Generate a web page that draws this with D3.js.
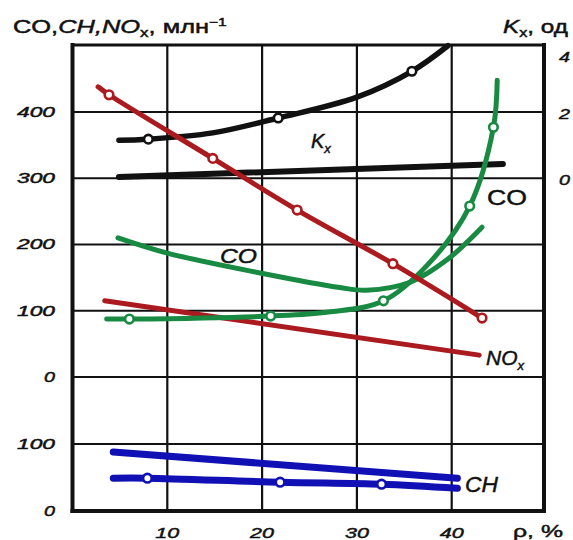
<!DOCTYPE html>
<html>
<head>
<meta charset="utf-8">
<script src="https://cdn.jsdelivr.net/npm/d3@7"></script>
<style>
  html, body { margin: 0; padding: 0; background: #fff; }
  svg { display: block; }
  text { font-family: "Liberation Sans", Arial, sans-serif; fill: #111; stroke: #111; stroke-width: 0.45; }
</style>
</head>
<body>
<svg id="chart" width="573" height="540"></svg>
<script>
// ---- data -------------------------------------------------------------
// ρ, % on the horizontal axis
const rhoTicks = [10, 20, 30, 40];
// upper block: CO and NOx, млн^-1
const upperTicks = [0, 100, 200, 300, 400];
// lower block: CH, млн^-1
const chTicks = [0, 100];
// right axis: Kx, од
const kxTicks = [0, 2, 4];

// each point: r = ρ (%), v = value, m = drawn with a circle marker
const noxMarked = [
  {r: 2.7, v: 438}, {r: 3.85, v: 426, m: 1}, {r: 14.8, v: 330, m: 1},
  {r: 23.7, v: 252, m: 1}, {r: 33.8, v: 171, m: 1}, {r: 43.2, v: 89, m: 1}
];
const noxPlain = [{r: 3.4, v: 115}, {r: 42.9, v: 33}];

const kxCurve = [
  {r: 4.9, v: 1.15}, {r: 8.0, v: 1.18, m: 1}, {r: 14.8, v: 1.37},
  {r: 21.7, v: 1.82, m: 1}, {r: 30.0, v: 2.45}, {r: 35.8, v: 3.23, m: 1},
  {r: 39.6, v: 4.0}
];
const kxLine = [{r: 4.9, v: 0.04}, {r: 45.4, v: 0.43}];

const coPlain = [
  {r: 4.8, v: 210}, {r: 10, v: 187}, {r: 19.8, v: 157}, {r: 28.2, v: 135},
  {r: 31, v: 131}, {r: 35.6, v: 143}, {r: 39.6, v: 178}, {r: 43.2, v: 226}
];
const coMarked = [
  {r: 3.6, v: 87.5}, {r: 6.0, v: 87.5, m: 1}, {r: 20.9, v: 92, m: 1},
  {r: 27, v: 98}, {r: 32.8, v: 115, m: 1}, {r: 37.5, v: 170},
  {r: 41.9, v: 258, m: 1}, {r: 44.4, v: 377, m: 1}, {r: 44.8, v: 448}
];

const chPlain = [{r: 4.3, v: 88}, {r: 40.6, v: 49}];
const chMarked = [
  {r: 4.3, v: 49}, {r: 7.9, v: 49, m: 1}, {r: 21.9, v: 43, m: 1},
  {r: 32.6, v: 40, m: 1}, {r: 40.6, v: 34}
];

// ---- colours ----------------------------------------------------------
const RED = "#aa1a1e", GREEN = "#188a42", BLUE = "#1010b4", BLACK = "#111";

// ---- scales -----------------------------------------------------------
const svg = d3.select("#chart");
const x = d3.scaleLinear().domain([0, 50]).range([72.5, 546.5]);
const yUp = d3.scaleLinear().domain([0, 500]).range([377, 45.75]);
const yKx = d3.scaleLinear().domain([0, 4]).range([yUp(300), yUp(500)]);
const yCH = d3.scaleLinear().domain([0, 100]).range([511, 444]);

const frame = {left: 72.5, right: 544, top: 45, bottom: 511};

// ---- grid -------------------------------------------------------------
const grid = svg.append("g").attr("stroke", BLACK).attr("stroke-width", 2.2);
grid.selectAll("line.v").data(rhoTicks).join("line")
  .attr("x1", d => x(d)).attr("x2", d => x(d))
  .attr("y1", frame.top).attr("y2", frame.bottom);
const hLines = upperTicks.map(d => yUp(d)).concat([yCH(100)]);
grid.selectAll("line.h").data(hLines).join("line")
  .attr("x1", frame.left).attr("x2", frame.right)
  .attr("y1", d => d).attr("y2", d => d);

// ---- frame ------------------------------------------------------------
const fr = svg.append("g").attr("stroke", BLACK).attr("stroke-linecap", "square");
fr.append("line").attr("x1", frame.left).attr("x2", frame.right)
  .attr("y1", frame.top).attr("y2", frame.top).attr("stroke-width", 3);
fr.append("line").attr("x1", frame.left).attr("x2", frame.right)
  .attr("y1", frame.bottom).attr("y2", frame.bottom).attr("stroke-width", 4);
fr.append("line").attr("x1", frame.left).attr("x2", frame.left)
  .attr("y1", frame.top).attr("y2", frame.bottom).attr("stroke-width", 4);
fr.append("line").attr("x1", frame.right).attr("x2", frame.right)
  .attr("y1", frame.top).attr("y2", frame.bottom).attr("stroke-width", 4);

// ---- series -----------------------------------------------------------
function series(data, yScale, color, width) {
  const line = d3.line()
    .x(d => x(d.r)).y(d => yScale(d.v))
    .curve(d3.curveCatmullRom.alpha(0.5));
  const g = svg.append("g");
  g.append("path").attr("d", line(data))
    .attr("fill", "none").attr("stroke", color)
    .attr("stroke-width", width).attr("stroke-linecap", "round");
  g.selectAll("circle").data(data.filter(d => d.m)).join("circle")
    .attr("cx", d => x(d.r)).attr("cy", d => yScale(d.v)).attr("r", 4.3)
    .attr("fill", "#fff").attr("stroke", color).attr("stroke-width", 2.6);
}

series(kxLine, yKx, BLACK, 6);
series(kxCurve, yKx, BLACK, 5.5);
series(noxPlain, yUp, RED, 5);
series(coPlain, yUp, GREEN, 5);
series(coMarked, yUp, GREEN, 5);
series(noxMarked, yUp, RED, 5);
series(chPlain, yCH, BLUE, 7);
series(chMarked, yCH, BLUE, 7);

// ---- text helpers -----------------------------------------------------
// stretch a text element horizontally to a given width around its anchor
function fit(sel, width) {
  const node = sel.node();
  const w = node.getComputedTextLength();
  const ax = +sel.attr("x");
  const k = width / w;
  sel.attr("transform", `translate(${ax},0) scale(${k},1) translate(${-ax},0)`);
  return sel;
}
function label(txt, px, py, opt = {}) {
  const t = svg.append("text")
    .attr("x", px).attr("y", py)
    .attr("font-size", opt.size || 14)
    .attr("font-style", opt.italic ? "italic" : "normal")
    .attr("text-anchor", opt.anchor || "start")
    .text(txt);
  if (opt.bold) t.attr("stroke-width", 0.8);
  if (opt.width) fit(t, opt.width);
  return t;
}

// left axis: CO / NOx block and CH block
upperTicks.forEach(d => label(String(d), 55, yUp(d) + 5,
  {size: 14, italic: true, bold: true, anchor: "end", width: d === 0 ? 11 : 38}));
chTicks.forEach(d => label(String(d), 55, yCH(d) + 5,
  {size: 14, italic: true, bold: true, anchor: "end", width: d === 0 ? 11 : 38}));

// bottom axis
rhoTicks.forEach(d => label(String(d), x(d), 538,
  {size: 15, italic: true, bold: true, anchor: "middle", width: 24}));
label("ρ, %", 513, 537, {size: 17, width: 50});

// right axis (Kx)
const kxLabelY = {4: 62, 2: 119, 0: 185};
kxTicks.forEach(d => label(String(d), 559, kxLabelY[d],
  {size: 15, italic: true, bold: true, width: 11}));

// axis titles
const title = svg.append("text").attr("x", 13).attr("y", 33).attr("font-size", 18);
title.append("tspan").text("CO,");
title.append("tspan").attr("font-style", "italic").text("CH,NO");
title.append("tspan").attr("font-size", 12).attr("dy", 4).text("x");
title.append("tspan").attr("dy", -4).text(", млн");
title.append("tspan").attr("font-size", 11).attr("dy", -7).text("−1");
fit(title, 214);

const kxTitle = svg.append("text").attr("x", 503).attr("y", 33).attr("font-size", 18);
kxTitle.append("tspan").attr("font-style", "italic").text("K");
kxTitle.append("tspan").attr("font-size", 12).attr("dy", 4).text("x");
kxTitle.append("tspan").attr("dy", -4).text(", од");
fit(kxTitle, 65);

// curve names
const kxName = svg.append("text").attr("x", 311).attr("y", 148).attr("font-size", 20)
  .attr("font-style", "italic");
kxName.append("tspan").text("K");
kxName.append("tspan").attr("font-size", 13).attr("dy", 5).text("x");

label("CO", 220, 263, {size: 20, italic: true, width: 37});
label("CO", 487, 205, {size: 22, width: 40});

const noxName = svg.append("text").attr("x", 486).attr("y", 365).attr("font-size", 21)
  .attr("font-style", "italic");
noxName.append("tspan").text("NO");
noxName.append("tspan").attr("font-size", 13).attr("dy", 5).text("x");

label("CH", 465, 492, {size: 22, italic: true, width: 33});
</script>
</body>
</html>
